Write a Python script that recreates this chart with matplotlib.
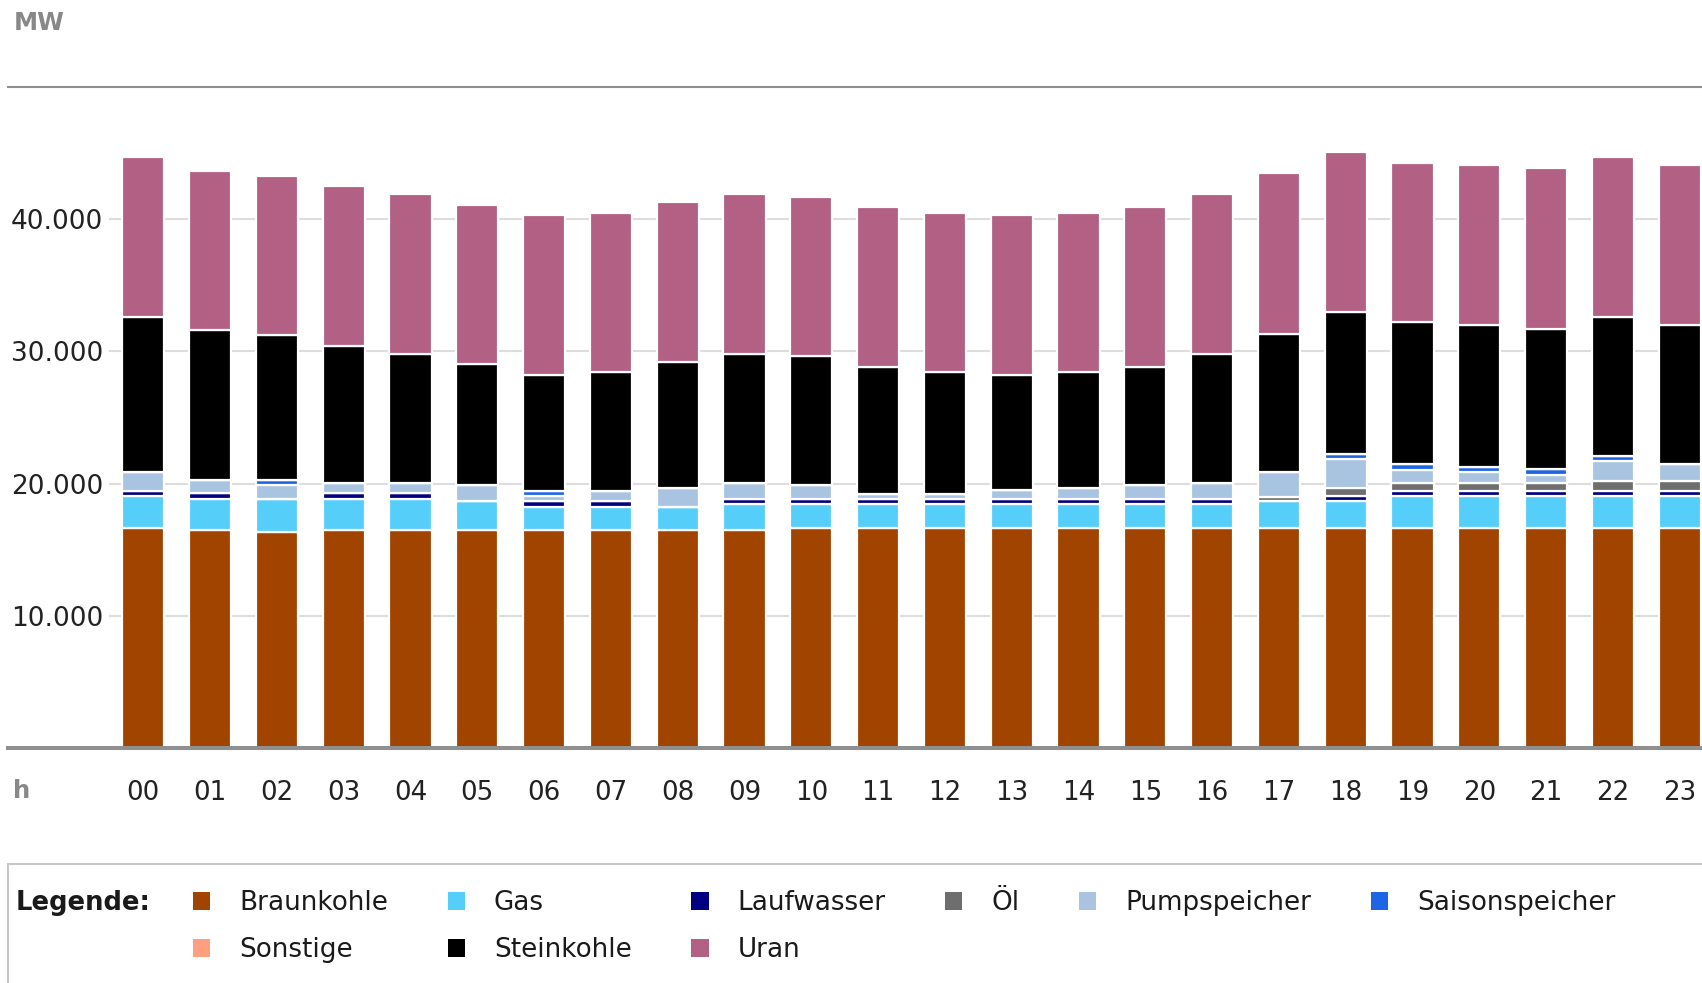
import matplotlib.pyplot as plt
from matplotlib.patches import Patch, Rectangle
import numpy as np

# Stromerzeugung je Stunde (MW), von unten nach oben gestapelt
hours = ['%02d' % h for h in range(24)]

braunkohle = [16650, 16490, 16330, 16490, 16490, 16490, 16490, 16490, 16490, 16490, 16670, 16670,
              16670, 16670, 16670, 16670, 16670, 16670, 16670, 16670, 16670, 16670, 16670, 16670]
gas = [2400, 2370, 2530, 2370, 2370, 2180, 1760, 1760, 1760, 1960, 1780, 1780,
       1780, 1780, 1780, 1780, 1780, 2000, 2000, 2380, 2380, 2380, 2380, 2380]
laufwasser = [400, 400, 0, 400, 400, 0, 400, 400, 0, 400, 400, 400,
              400, 400, 400, 400, 400, 0, 400, 380, 380, 380, 380, 380]
oel = [0, 0, 0, 0, 0, 0, 0, 0, 0, 0, 0, 0,
       0, 0, 0, 0, 0, 350, 580, 610, 610, 610, 800, 800]
pumpspeicher = [1440, 1010, 1000, 820, 820, 1190, 400, 800, 1430, 1230, 1010, 400,
                400, 630, 830, 1010, 1210, 1820, 2200, 1020, 830, 640, 1480, 1220]
saisonspeicher = [0, 0, 430, 0, 0, 0, 400, 0, 0, 0, 0, 0,
                  0, 0, 0, 0, 0, 0, 420, 420, 400, 390, 380, 0]
sonstige = [0] * 24
steinkohle = [11740, 11360, 10940, 10360, 9750, 9170, 8790, 8970, 9540, 9750, 9760, 9580,
              9170, 8740, 8740, 8950, 9770, 10490, 10740, 10730, 10740, 10660, 10520, 10560]
uran = [12040, 12030, 12050, 12040, 12060, 12030, 12040, 12060, 12070, 12060, 12050, 12060,
        12080, 12060, 12080, 12080, 12060, 12150, 12060, 12060, 12080, 12130, 12070, 12060]

names = ['Braunkohle', 'Gas', 'Laufwasser', 'Öl', 'Pumpspeicher', 'Saisonspeicher',
         'Sonstige', 'Steinkohle', 'Uran']
colors = ['#a04400', '#56cefa', '#000080', '#6e6e6e', '#a9c4e0', '#1e64e6',
          '#ff9f7f', '#000000', '#b26084']
series = [braunkohle, gas, laufwasser, oel, pumpspeicher, saisonspeicher,
          sonstige, steinkohle, uran]

yticks = [10000, 20000, 30000, 40000]
ylabels = ['10.000', '20.000', '30.000', '40.000']

W, H = 1702, 983
fig = plt.figure(figsize=(W / 100, H / 100), dpi=100)
ax = fig.add_axes([8 / W, (H - 748) / H, (W - 8) / W, (748 - 87) / H])

x = np.arange(len(hours))
bottom = np.zeros(len(hours))
for vals, col in zip(series, colors):
    ax.bar(x, vals, 0.63, bottom=bottom, color=col, edgecolor='white', linewidth=1.6, zorder=3)
    bottom += np.array(vals)

ax.set_xlim(-2.025, 23.334)
ax.set_ylim(0, 50000)

# grid lines only right of the labels
for y in yticks:
    ax.axhline(y, xmin=(110 - 8) / (W - 8), color='#dddddd', lw=1.5, zorder=1)

ax.set_yticks(yticks, ylabels)
ax.tick_params(axis='y', length=0, pad=-68.4, labelsize=19, labelcolor='#222222')
ax.set_xticks(x, hours)
ax.tick_params(axis='x', length=0, pad=23, labelsize=18.8, labelcolor='#222222')

for s in ['left', 'right']:
    ax.spines[s].set_visible(False)
ax.spines['top'].set_color('#8f8f8f')
ax.spines['top'].set_linewidth(1.5)
ax.spines['bottom'].set_color('#8f8f8f')
ax.spines['bottom'].set_linewidth(2.9)
ax.spines['bottom'].set_zorder(4)

fig.text(14 / W, 1 - 23.5 / H, 'MW', fontsize=17.5, fontweight='bold', color='#888888', va='center')
fig.text(13 / W, 1 - 791 / H, 'h', fontsize=17.5, fontweight='bold', color='#888888', va='center')

# legend box
fig.add_artist(Rectangle((8 / W, -0.2), 1.5, (H - 864) / H + 0.2, transform=fig.transFigure,
                         fill=False, edgecolor='#c8c8c8', lw=1.5))
fig.text(16 / W, 1 - 903 / H, 'Legende:', fontsize=18.6, fontweight='bold', color='#1a1a1a', va='center')

handles = [Patch(facecolor=c, edgecolor='none') for c in colors]
order = [0, 6, 1, 7, 2, 8, 3, 4, 5]  # column-major filling for two rows
fig.legend([handles[i] for i in order], [names[i] for i in order],
           loc='upper left', bbox_to_anchor=(193 / W, 1 - 890 / H), ncol=6, frameon=False,
           fontsize=18.9, handlelength=0.66, handleheight=0.66, handletextpad=1.1,
           columnspacing=2.27, labelspacing=0.8, borderpad=0, borderaxespad=0,
           labelcolor='#1a1a1a')

fig.savefig('out.png', dpi=100)
